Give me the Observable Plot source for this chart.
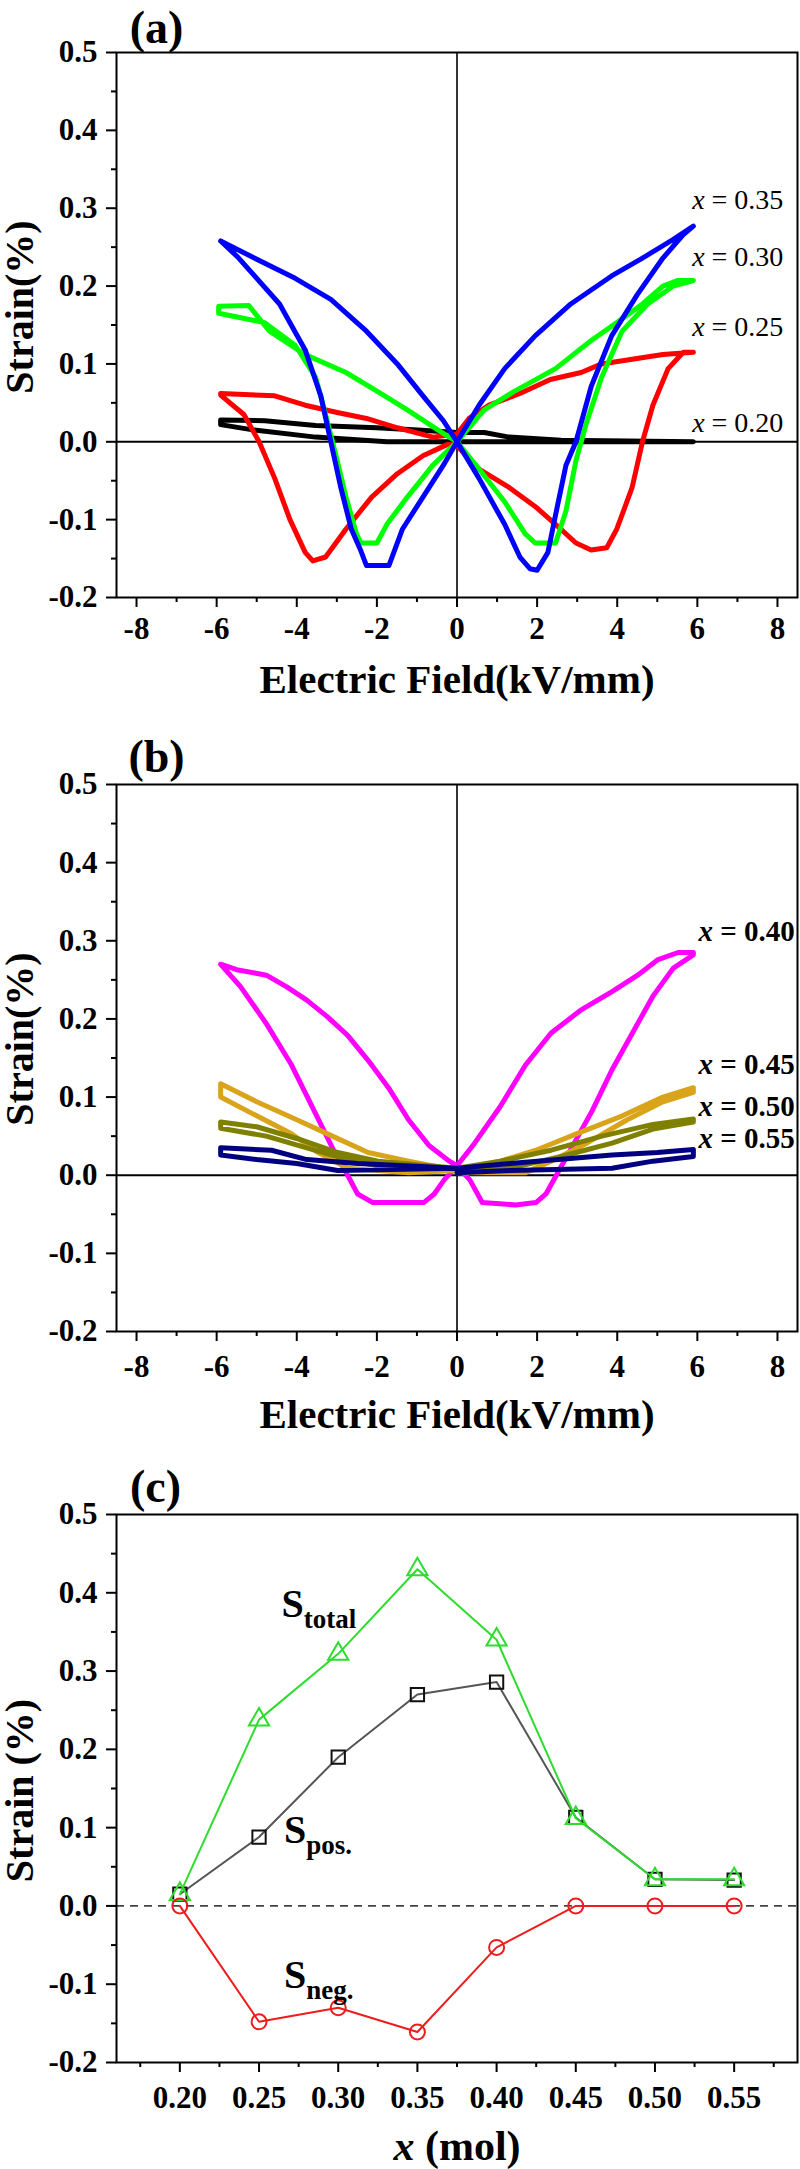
<!DOCTYPE html>
<html><head><meta charset="utf-8">
<script src="https://cdn.jsdelivr.net/npm/d3@7"></script>
<script src="https://cdn.jsdelivr.net/npm/@observablehq/plot@0.6"></script>
<style>
html,body{margin:0;padding:0;background:#fff;}
#chart svg{display:block;}
</style></head><body><div id="chart"></div>
<script>
// ---------- Panel (a): strain loops, x = 0.20 ... 0.35 ([E kV/mm, strain %]) ----------
const loop020 = [[0,0.012],[0.68,0.012],[1.3,0.006],[2.6,0.002],[5.9,0],[2.6,0],[0,0],[-1.75,0],[-3.53,0.006],[-5.06,0.015],[-5.9,0.022],[-5.9,0.028],[-4.8,0.027],[-3.53,0.021],[-2.0,0.018],[-0.98,0.015],[0,0.012]];
const loop025 = [[0,0.01],[0.3,0.03],[0.8,0.047],[1.57,0.062],[2.33,0.08],[3.1,0.089],[3.61,0.1],[4.37,0.106],[5.14,0.112],[5.9,0.115],
  [5.65,0.115],[5.27,0.094],[4.89,0.047],[4.63,0],[4.37,-0.059],[3.99,-0.112],[3.74,-0.136],[3.35,-0.139],[2.97,-0.13],[2.46,-0.106],[1.95,-0.083],[1.31,-0.059],[0.55,-0.035],[0,-0.005],
  [-0.22,-0.003],[-0.85,-0.018],[-1.49,-0.041],[-2.13,-0.071],[-2.77,-0.112],[-3.28,-0.148],[-3.6,-0.153],[-3.79,-0.142],[-4.17,-0.1],[-4.55,-0.047],[-4.94,0],[-5.32,0.035],[-5.9,0.06],
  [-5.9,0.062],[-4.55,0.059],[-3.79,0.047],[-3.02,0.038],[-2.26,0.03],[-1.49,0.018],[-0.6,0.006],[0,0.01]];
const loop030 = [[0,0],[0.68,0.041],[1.44,0.065],[2.46,0.094],[3.35,0.13],[3.99,0.153],[4.63,0.177],[5.14,0.2],[5.5,0.207],[5.9,0.207],
  [5.4,0.2],[4.76,0.177],[4.12,0.142],[3.61,0.083],[3.23,0.024],[2.97,-0.024],[2.72,-0.089],[2.46,-0.13],[1.95,-0.13],[1.7,-0.118],[1.19,-0.077],[0.55,-0.035],[0,0],
  [-0.6,-0.03],[-1.24,-0.071],[-1.75,-0.106],[-2.0,-0.13],[-2.4,-0.13],[-2.51,-0.118],[-2.77,-0.071],[-3.02,-0.018],[-3.28,0.035],[-3.53,0.083],[-4.04,0.124],[-4.8,0.153],[-5.95,0.165],
  [-5.95,0.174],[-5.2,0.175],[-4.68,0.142],[-3.79,0.112],[-2.77,0.089],[-2.0,0.065],[-1.24,0.041],[-0.47,0.015],[0,0]];
const loop035 = [[0,0],[0.55,0.047],[1.19,0.094],[1.95,0.136],[2.84,0.177],[3.86,0.213],[4.63,0.236],[5.4,0.26],[5.9,0.277],
  [5.65,0.266],[5.14,0.236],[4.5,0.189],[3.86,0.136],[3.35,0.071],[2.97,0],[2.72,-0.03],[2.46,-0.094],[2.27,-0.142],[2.0,-0.165],[1.82,-0.163],[1.57,-0.148],[1.19,-0.106],[0.55,-0.047],[0,0],
  [-0.34,-0.03],[-0.85,-0.071],[-1.36,-0.112],[-1.7,-0.159],[-2.26,-0.159],[-2.4,-0.14],[-2.64,-0.112],[-2.9,-0.059],[-3.15,0],[-3.4,0.059],[-3.79,0.118],[-4.43,0.177],[-5.45,0.236],[-5.9,0.258],
  [-5.06,0.236],[-4.04,0.21],[-3.15,0.183],[-2.26,0.142],[-1.49,0.1],[-0.85,0.059],[-0.34,0.027],[0,0]];

// ---------- Panel (b): strain loops, x = 0.40 ... 0.55 ----------
const loop040 = [[0,0.012],[0.44,0.041],[1.08,0.088],[1.71,0.141],[2.35,0.182],[3.11,0.212],[3.87,0.235],[4.51,0.256],[5.02,0.276],[5.52,0.285],[5.9,0.285],
  [5.9,0.282],[5.4,0.265],[4.89,0.229],[4.38,0.182],[3.87,0.135],[3.37,0.082],[2.86,0.035],[2.48,0],[2.22,-0.024],[1.97,-0.035],[1.46,-0.038],[0.63,-0.035],[0.32,-0.006],[0,0.012],
  [-0.32,-0.006],[-0.57,-0.024],[-0.83,-0.035],[-2.1,-0.035],[-2.48,-0.024],[-2.73,0],[-3.11,0.035],[-3.62,0.088],[-4.13,0.141],[-4.76,0.194],[-5.4,0.241],[-5.9,0.27],
  [-5.5,0.263],[-4.76,0.256],[-4.25,0.241],[-3.75,0.224],[-3.24,0.203],[-2.73,0.179],[-2.22,0.147],[-1.71,0.112],[-1.21,0.071],[-0.7,0.038],[-0.19,0.018],[0,0.012]];
const loop045 = [[0,0.003],[1.7,0.003],[2.35,0.018],[3.24,0.041],[4.25,0.071],[5.14,0.094],[5.9,0.106],[5.9,0.112],[5.14,0.1],[4.13,0.076],[2.98,0.053],[1.97,0.032],[1.08,0.018],[0,0.006],
  [-1.2,0.003],[-2.73,0.009],[-3.5,0.03],[-4.13,0.053],[-5.0,0.076],[-5.9,0.1],[-5.9,0.117],[-5.0,0.094],[-4.0,0.071],[-3.11,0.05],[-2.22,0.029],[-1.21,0.018],[0,0.006]];
const loop050 = [[0,0.005],[1.33,0.009],[2.6,0.024],[3.87,0.041],[4.89,0.059],[5.9,0.068],[5.9,0.072],[4.89,0.065],[3.62,0.05],[2.35,0.032],[1.08,0.018],[0,0.009],
  [-1.71,0.009],[-2.73,0.02],[-3.75,0.035],[-4.76,0.05],[-5.9,0.06],[-5.9,0.068],[-5.0,0.062],[-4.0,0.047],[-2.98,0.029],[-1.97,0.018],[0,0.009]];
const loop055 = [[0,0.003],[1.33,0.006],[3.87,0.009],[4.89,0.018],[5.9,0.024],[5.9,0.033],[5.0,0.029],[3.87,0.026],[1.33,0.015],[0,0.009],
  [-2.98,0.006],[-4.0,0.015],[-5.0,0.02],[-5.9,0.026],[-5.9,0.035],[-4.63,0.032],[-3.75,0.02],[-2.48,0.015],[0,0.009]];

// ---------- Panel (c): strain vs composition ----------
const compX  = [0.20, 0.25, 0.30, 0.35, 0.40, 0.45, 0.50, 0.55];
const sTotal = [0.015, 0.238, 0.322, 0.430, 0.340, 0.112, 0.034, 0.034];
const sPos   = [0.015, 0.088, 0.190, 0.270, 0.286, 0.113, 0.034, 0.033];
const sNeg   = [0.000, -0.148, -0.130, -0.161, -0.053, 0.000, 0.000, 0.000];

// ---------- ticks & labels ----------
const eMajor = [-8, -6, -4, -2, 0, 2, 4, 6, 8];
const eMinor = [-7, -5, -3, -1, 1, 3, 5, 7];
const sMajor = [-0.2, -0.1, 0, 0.1, 0.2, 0.3, 0.4, 0.5];
const sMinor = [-0.15, -0.05, 0.05, 0.15, 0.25, 0.35, 0.45];
const xMajor = [0.20, 0.25, 0.30, 0.35, 0.40, 0.45, 0.50, 0.55];
const xMinor = [0.175, 0.225, 0.275, 0.325, 0.375, 0.425, 0.475, 0.525, 0.575];

const seriesA = [
  {name: "x = 0.20", pts: loop020, color: "#000000", lx: 5.87, ly: 0.0235},
  {name: "x = 0.25", pts: loop025, color: "#ff0000", lx: 5.87, ly: 0.147},
  {name: "x = 0.30", pts: loop030, color: "#00ff00", lx: 5.87, ly: 0.237},
  {name: "x = 0.35", pts: loop035, color: "#0000ff", lx: 5.87, ly: 0.31}
];
const seriesB = [
  {name: "x = 0.40", pts: loop040, color: "#ff00ff", lx: 6.03, ly: 0.312},
  {name: "x = 0.45", pts: loop045, color: "#d9a41a", lx: 6.03, ly: 0.141},
  {name: "x = 0.50", pts: loop050, color: "#808000", lx: 6.03, ly: 0.088},
  {name: "x = 0.55", pts: loop055, color: "#000080", lx: 6.03, ly: 0.047}
];
const compLabels = [
  {main: "S", sub: "total", x: 0.2642, y: 0.369},
  {main: "S", sub: "pos.",  x: 0.2658, y: 0.080},
  {main: "S", sub: "neg.",  x: 0.2658, y: -0.105}
];

const FONT = "'Liberation Serif','Times New Roman',Times,serif";
const baseStyle = {fontFamily: FONT, fontWeight: "bold", fontSize: "31px", color: "black", background: "white", overflow: "visible"};

function axes(xMaj, xMin, xFmt, padX) {
  return [
    Plot.axisX(xMaj, {tickSize: 10, tickPadding: padX, strokeWidth: 2, tickFormat: xFmt, label: null}),
    Plot.axisX(xMin, {tickSize: 5, strokeWidth: 2, tickFormat: () => "", label: null}),
    Plot.axisY(sMajor, {tickSize: 10, tickPadding: 9, strokeWidth: 2, tickFormat: d => d.toFixed(1), label: null}),
    Plot.axisY(sMinor, {tickSize: 5, strokeWidth: 2, tickFormat: () => "", label: null})
  ];
}

function loopPanel({series, height, marginTop, marginBottom, tag, tagDy, padX, labelWeight, labelSize, yTitleDy, xTitleDy}) {
  const marks = [
    Plot.ruleX([0], {stroke: "black", strokeWidth: 1.6}),
    Plot.ruleY([0], {stroke: "black", strokeWidth: 2})
  ];
  for (const s of series) {
    marks.push(Plot.line(s.pts, {x: d => d[0], y: d => d[1], stroke: s.color, strokeWidth: 5, strokeLinejoin: "round", strokeLinecap: "round"}));
  }
  marks.push(
    Plot.frame({stroke: "black", strokeWidth: 2}),
    ...axes(eMajor, eMinor, d => String(d), padX),
    Plot.text(series, {x: "lx", y: "ly", text: "name", textAnchor: "start", lineAnchor: "middle", fontSize: labelSize, fontWeight: labelWeight}),
    Plot.text([tag], {frameAnchor: "top-left", textAnchor: "middle", lineAnchor: "middle", dx: 40, dy: tagDy, fontSize: 46}),
    Plot.text(["Strain(%)"], {frameAnchor: "left", rotate: -90, textAnchor: "middle", lineAnchor: "middle", dx: -96, dy: yTitleDy, fontSize: 40}),
    Plot.text(["Electric Field(kV/mm)"], {frameAnchor: "bottom", textAnchor: "middle", lineAnchor: "middle", dy: xTitleDy, fontSize: 41})
  );
  return Plot.plot({
    width: 800, height, marginLeft: 116, marginRight: 3, marginTop, marginBottom,
    style: baseStyle,
    x: {domain: [-8.5, 8.5]},
    y: {domain: [-0.2, 0.5]},
    marks
  });
}

const chartA = loopPanel({series: seriesA, height: 720, marginTop: 52, marginBottom: 123, tag: "(a)", tagDy: -24, padX: 9.5, labelWeight: "normal", labelSize: 28, yTitleDy: -18, xTitleDy: 82});
const chartB = loopPanel({series: seriesB, height: 730, marginTop: 64, marginBottom: 119, tag: "(b)", tagDy: -27, padX: 13.5, labelWeight: "bold", labelSize: 29, yTitleDy: -19, xTitleDy: 83});

const comp = compX.map((x, i) => ({x, total: sTotal[i], pos: sPos[i], neg: sNeg[i]}));
const chartC = Plot.plot({
  width: 800, height: 719, marginLeft: 116, marginRight: 3, marginTop: 64, marginBottom: 107,
  style: baseStyle,
  x: {domain: [0.16, 0.59]},
  y: {domain: [-0.2, 0.5]},
  marks: [
    Plot.ruleY([0], {stroke: "#444", strokeWidth: 1.8, strokeDasharray: "8,6"}),
    Plot.line(comp, {x: "x", y: "pos", stroke: "#555", strokeWidth: 2}),
    Plot.dot(comp, {x: "x", y: "pos", symbol: "square", r: 7.5, stroke: "#111", strokeWidth: 2, fill: "none"}),
    Plot.line(comp, {x: "x", y: "total", stroke: "#2edc2e", strokeWidth: 2}),
    Plot.dot(comp, {x: "x", y: "total", symbol: "triangle", r: 7.5, stroke: "#2edc2e", strokeWidth: 2, fill: "none"}),
    Plot.line(comp, {x: "x", y: "neg", stroke: "#ee1c1c", strokeWidth: 2}),
    Plot.dot(comp, {x: "x", y: "neg", symbol: "circle", r: 7.5, stroke: "#ee1c1c", strokeWidth: 2, fill: "none"}),
    Plot.frame({stroke: "black", strokeWidth: 2}),
    ...axes(xMajor, xMinor, d => d.toFixed(2), 13.5),
    Plot.text(compLabels, {x: "x", y: "y", text: d => d.main + d.sub, textAnchor: "start", lineAnchor: "bottom", fontSize: 40}),
    Plot.text(["(c)"], {frameAnchor: "top-left", textAnchor: "middle", lineAnchor: "middle", dx: 39, dy: -27, fontSize: 46}),
    Plot.text(["Strain (%)"], {frameAnchor: "left", rotate: -90, textAnchor: "middle", lineAnchor: "middle", dx: -96, dy: 2, fontSize: 40}),
    Plot.text(["x (mol)"], {frameAnchor: "bottom", textAnchor: "middle", lineAnchor: "middle", dy: 84, fontSize: 42})
  ]
});

// rich text: italic x, subscripts
const NS = "http://www.w3.org/2000/svg";
function richText(svg) {
  svg.querySelectorAll("text").forEach(t => {
    const s = t.textContent;
    let m;
    if (/^x (=|\()/.test(s)) {
      t.textContent = "";
      const it = document.createElementNS(NS, "tspan");
      it.setAttribute("font-style", "italic");
      it.textContent = "x";
      t.appendChild(it);
      t.appendChild(document.createTextNode(s.slice(1)));
    } else if ((m = /^S(total|pos\.|neg\.)$/.exec(s))) {
      t.textContent = "S";
      const sub = document.createElementNS(NS, "tspan");
      sub.setAttribute("font-size", "27");
      sub.setAttribute("dy", "11");
      sub.textContent = m[1];
      t.appendChild(sub);
    }
  });
}
[chartA, chartB, chartC].forEach(c => { richText(c); document.getElementById("chart").appendChild(c); });
</script></body></html>
